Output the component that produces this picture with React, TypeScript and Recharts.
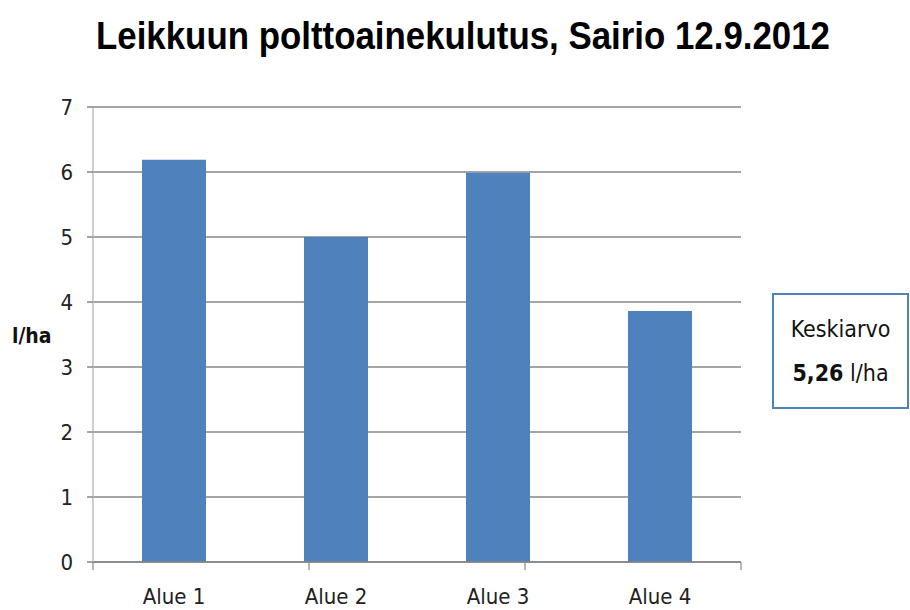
import { BarChart, Bar, XAxis, YAxis, CartesianGrid } from "recharts";

const areas = ["Alue 1", "Alue 2", "Alue 3", "Alue 4"];
const fuel = [6.19, 5.0, 5.99, 3.86];
const yTicks = [0, 1, 2, 3, 4, 5, 6, 7];
const edgeTicks = [0, 1, 2, 3, 4];
const title = "Leikkuun polttoainekulutus, Sairio 12.9.2012";
const avgLabel = "Keskiarvo";
const avgValue = "5,26";
const unit = "l/ha";

const data = areas.map((name, i) => ({ name, value: fuel[i] }));

const narrow = "'Liberation Sans Narrow', 'DejaVu Sans Condensed', 'Liberation Sans', sans-serif";
const grid = "#868686";

export default function App() {
  return (
    <div style={{ position: "absolute", left: 0, top: 0, width: 910, height: 610, background: "#fff", fontFamily: narrow }}>
      <svg width={910} height={70} style={{ position: "absolute", left: 0, top: 0 }}>
        <text
          x={96}
          y={49}
          fontSize={38}
          fontWeight="bold"
          fill="#000"
          textLength={734}
          lengthAdjust="spacingAndGlyphs"
          fontFamily="'Liberation Sans', sans-serif"
        >
          {title}
        </text>
      </svg>

      <BarChart
        width={910}
        height={610}
        data={data}
        margin={{ top: 107, right: 169, bottom: 0, left: 0 }}
        barCategoryGap="30%"
      >
        <CartesianGrid vertical={false} stroke={grid} strokeWidth={1.5} />
        <XAxis
          xAxisId="b-cat"
          dataKey="name"
          height={38}
          axisLine={false}
          tickLine={false}
          tickSize={0}
          tickMargin={16}
          tick={{ fill: "#222", fontSize: 22, fontFamily: narrow }}
        />
        <XAxis
          xAxisId="a-edges"
          type="number"
          domain={[0, 4]}
          ticks={edgeTicks}
          interval={0}
          tickFormatter={() => ""}
          height={10}
          tickSize={8}
          axisLine={{ stroke: grid, strokeWidth: 1.5 }}
          tickLine={{ stroke: grid, strokeWidth: 1.2 }}
        />
        <YAxis
          width={93}
          domain={[0, 7]}
          ticks={yTicks}
          interval={0}
          tickSize={6}
          tickMargin={14}
          axisLine={{ stroke: "#bfbfbf", strokeWidth: 1.5 }}
          tickLine={{ stroke: grid, strokeWidth: 1.5 }}
          tick={{ fill: "#222", fontSize: 22, fontFamily: narrow }}
        />
        <Bar xAxisId="b-cat" dataKey="value" fill="#4f81bd" barSize={64} isAnimationActive={false} />
      </BarChart>

      <div
        style={{
          position: "absolute",
          left: 12,
          top: 324,
          fontSize: 21,
          fontWeight: "bold",
          color: "#111",
          fontFamily: narrow,
        }}
      >
        {unit}
      </div>

      <div
        style={{
          position: "absolute",
          left: 772,
          top: 293,
          width: 133,
          height: 112,
          border: "2px solid #4f81bd",
          display: "flex",
          flexDirection: "column",
          justifyContent: "center",
          alignItems: "center",
          fontSize: 23,
          lineHeight: "44px",
          color: "#111",
          fontFamily: narrow,
        }}
      >
        <div>{avgLabel}</div>
        <div>
          <b>{avgValue}</b> {unit}
        </div>
      </div>
    </div>
  );
}
